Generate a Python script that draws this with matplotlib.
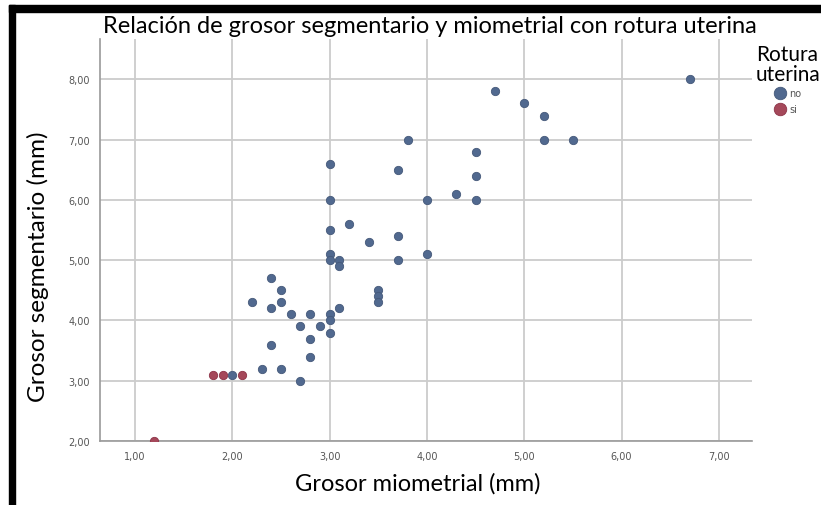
import matplotlib
matplotlib.use("Agg")
import matplotlib.pyplot as plt
from matplotlib.patches import Rectangle

# --- Data ---
# grosor miometrial (mm) / grosor segmentario (mm), rotura uterina = no
no_x = [2.0, 2.2, 2.3, 2.4, 2.4, 2.4, 2.5, 2.5, 2.5, 2.6, 2.7, 2.7, 2.8, 2.8,
        2.8, 2.9, 3.0, 3.0, 3.0, 3.0, 3.0, 3.0, 3.0, 3.0, 3.1, 3.1, 3.1, 3.2,
        3.4, 3.5, 3.5, 3.5, 3.7, 3.7, 3.7, 3.8, 4.0, 4.0, 4.3, 4.5, 4.5, 4.5,
        4.7, 5.0, 5.2, 5.2, 5.5, 6.7]
no_y = [3.1, 4.3, 3.2, 4.7, 4.2, 3.6, 4.5, 4.3, 3.2, 4.1, 3.9, 3.0, 4.1, 3.7,
        3.4, 3.9, 4.1, 4.0, 3.8, 5.1, 5.0, 5.5, 6.0, 6.6, 5.0, 4.9, 4.2, 5.6,
        5.3, 4.5, 4.4, 4.3, 6.5, 5.4, 5.0, 7.0, 6.0, 5.1, 6.1, 6.8, 6.4, 6.0,
        7.8, 7.6, 7.4, 7.0, 7.0, 8.0]

# rotura uterina = si
si_x = [1.2, 1.8, 1.9, 2.1]
si_y = [2.0, 3.1, 3.1, 3.1]

x_ticks = [1, 2, 3, 4, 5, 6, 7]
y_ticks = [2, 3, 4, 5, 6, 7, 8]

COLOR_NO = "#51698f"
COLOR_SI = "#a5485a"
FONT = "Lato"

fig = plt.figure(figsize=(8.21, 5.06), dpi=100)
ax = fig.add_axes([100 / 821, 1 - 442 / 506, (752 - 100) / 821, (442 - 40) / 506])

ax.scatter(no_x, no_y, s=36, color=COLOR_NO, edgecolor="#45597a", linewidth=0.6,
           label="no", zorder=3)
ax.scatter(si_x, si_y, s=36, color=COLOR_SI, edgecolor="#8c3347", linewidth=0.6,
           label="si", zorder=3)

ax.set_xlim(0.64, 7.34)
ax.set_ylim(2.0, 8.67)
ax.set_xticks(x_ticks)
ax.set_yticks(y_ticks)
ax.set_xticklabels([f"{v:.2f}".replace(".", ",") for v in x_ticks])
ax.set_yticklabels([f"{v:.2f}".replace(".", ",") for v in y_ticks])
ax.tick_params(length=0, labelsize=7, labelcolor="#555555", pad=7)

ax.grid(True, color="#cccccc", linewidth=1.3)
ax.set_axisbelow(True)
for side in ["top", "right"]:
    ax.spines[side].set_visible(False)
for side in ["left", "bottom"]:
    ax.spines[side].set_color("#9a9a9a")
    ax.spines[side].set_linewidth(1.2)

ax.set_xlabel("Grosor miometrial (mm)", fontsize=17, family=FONT, labelpad=8)
ax.set_ylabel("Grosor segmentario (mm)", fontsize=17.5, family=FONT, labelpad=14)
ax.xaxis.label.set_x(0.488)
ax.yaxis.label.set_y(0.435)

fig.text(430 / 821, 1 - 33 / 506, "Relación de grosor segmentario y miometrial con rotura uterina",
         ha="center", va="baseline", fontsize=17, family=FONT)

leg = ax.legend(title="Rotura\nuterina", loc="upper center",
                bbox_to_anchor=(788 / 821, 1 - 40 / 506), bbox_transform=fig.transFigure,
                frameon=False, fontsize=7, markerscale=1.5, handletextpad=0.5,
                labelspacing=0.6, borderpad=0, handlelength=1.0)
leg.get_title().set_fontsize(15)
leg.get_title().set_family(FONT)
leg.get_title().set_linespacing(1.0)
leg._legend_box.sep = 3
for t in leg.get_texts():
    t.set_color("#555555")

# black frame on the left and top of the screenshot
fig.patches.append(Rectangle((9 / 821, 0), 6 / 821, 1 - 6 / 506, transform=fig.transFigure,
                             color="black", zorder=10))
fig.patches.append(Rectangle((9 / 821, 1 - 13 / 506), 1, 7 / 506, transform=fig.transFigure,
                             color="black", zorder=10))

fig.savefig("out.png", dpi=100)
